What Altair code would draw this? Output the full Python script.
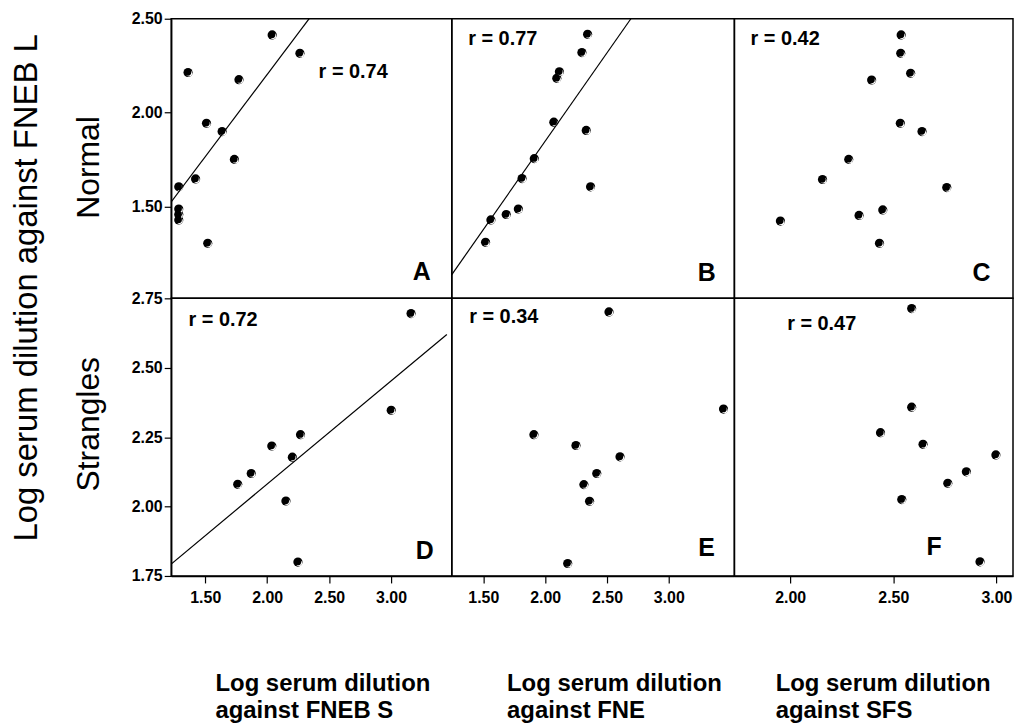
import altair as alt
import pandas as pd

FONT = "Liberation Sans"

# ---------------- data ----------------
# Row 1 (Normal): y = log serum dilution against FNEB L
a_x = [2.040, 2.264, 1.361, 1.772, 1.510, 1.636, 1.735, 1.422, 1.286, 1.286, 1.286, 1.286, 1.520]
a_y = [2.414, 2.316, 2.214, 2.176, 1.944, 1.900, 1.752, 1.648, 1.606, 1.488, 1.459, 1.430, 1.306]
b_x = [2.343, 2.297, 2.115, 2.094, 2.070, 2.332, 1.912, 1.813, 2.367, 1.783, 1.685, 1.561, 1.518]
b_y = [2.417, 2.320, 2.218, 2.183, 1.950, 1.906, 1.756, 1.650, 1.606, 1.488, 1.459, 1.430, 1.311]
c_x = [2.538, 2.536, 2.584, 2.395, 2.534, 2.639, 2.284, 2.157, 2.759, 2.449, 2.334, 1.953, 2.433]
c_y = [2.414, 2.316, 2.210, 2.174, 1.944, 1.900, 1.752, 1.645, 1.602, 1.483, 1.454, 1.424, 1.306]

# Row 2 (Strangles)
d_x = [3.161, 3.001, 2.269, 2.037, 2.203, 1.871, 1.762, 2.151, 2.248]
d_y = [2.695, 2.347, 2.259, 2.218, 2.178, 2.119, 2.080, 2.020, 1.800]
e_x = [2.516, 3.442, 1.909, 2.249, 2.605, 2.417, 2.313, 2.359, 2.182]
e_y = [2.701, 2.351, 2.259, 2.220, 2.179, 2.119, 2.079, 2.019, 1.795]
f_x = [2.589, 2.589, 2.438, 2.644, 2.997, 2.854, 2.764, 2.541, 2.920]
f_y = [2.713, 2.358, 2.266, 2.224, 2.186, 2.125, 2.084, 2.025, 1.801]

# regression lines (end points)
a_fit_x = [1.225, 2.339]
a_fit_y = [1.526, 2.500]
b_fit_x = [1.245, 2.693]
b_fit_y = [1.139, 2.500]
d_fit_x = [1.225, 3.450]
d_fit_y = [1.793, 2.620]

# annotations
r_labels = ["r = 0.74", "r = 0.77", "r = 0.42", "r = 0.72", "r = 0.34", "r = 0.47"]
r_x = [2.694, 1.657, 1.976, 1.644, 1.665, 2.153]
r_y = [2.214, 2.390, 2.390, 2.671, 2.683, 2.659]
panel_letters = ["A", "B", "C", "D", "E", "F"]
letter_x = [3.247, 3.307, 2.927, 3.271, 3.304, 2.698]
letter_y = [1.151, 1.147, 1.147, 1.841, 1.852, 1.855]

row_titles = ["Normal", "Strangles"]
col_titles = [["Log serum dilution", "against FNEB S"],
              ["Log serum dilution", "against FNE"],
              ["Log serum dilution", "against SFS"]]
main_title = "Log serum dilution against FNEB L"

x_domains = [[1.225, 3.49], [1.245, 3.53], [1.73, 3.08]]
y_domains = [[1.013, 2.50], [1.75, 2.75]]
x_ticks = [[1.5, 2.0, 2.5, 3.0], [1.5, 2.0, 2.5, 3.0], [2.0, 2.5, 3.0]]
y_ticks = [[1.5, 2.0, 2.5], [1.75, 2.0, 2.25, 2.5, 2.75]]
widths = [282, 284, 280]
heights = [281, 279]
title_x = [44, 55, 41]
row_title_y = [149, 126]


def panel(i, px, py, col, row, fx=None, fy=None):
    if row == 1:
        xaxis = alt.Axis(values=x_ticks[col], format=".2f", title=col_titles[col],
                         titleFont=FONT, titleFontSize=24, titleFontWeight="bold",
                         titleColor="black", titleAlign="left", titleAnchor="start",
                         titleX=title_x[col], titleY=115, titleBaseline="alphabetic",
                         titleLineHeight=27, labelPadding=7)
    else:
        xaxis = None
    if col == 0:
        yaxis = alt.Axis(values=y_ticks[row], format=".2f", title=row_titles[row],
                         titleFont=FONT, titleFontSize=32, titleFontWeight="normal",
                         titleColor="black", titlePadding=26, titleY=row_title_y[row],
                         labelPadding=2)
    else:
        yaxis = None
    xenc = alt.X("x:Q", scale=alt.Scale(domain=x_domains[col], nice=False, zero=False), axis=xaxis)
    yenc = alt.Y("y:Q", scale=alt.Scale(domain=y_domains[row], nice=False, zero=False), axis=yaxis)

    base = alt.Chart(pd.DataFrame({"x": px, "y": py}))
    layers = [
        base.mark_circle(color="black", opacity=1, size=85, clip=True).encode(x=xenc, y=yenc),
        base.mark_circle(color="white", opacity=1, size=36, xOffset=1.1, yOffset=1.1,
                         clip=True).encode(x=xenc, y=yenc),
        base.mark_circle(color="black", opacity=1, size=46, xOffset=-0.2, yOffset=-0.2,
                         clip=True).encode(x=xenc, y=yenc),
    ]
    if fx is not None:
        layers.append(
            alt.Chart(pd.DataFrame({"x": fx, "y": fy}))
            .mark_line(color="black", strokeWidth=1.2, clip=True)
            .encode(x=xenc, y=yenc)
        )
    layers.append(
        alt.Chart(pd.DataFrame({"x": [r_x[i]], "y": [r_y[i]], "t": [r_labels[i]]}))
        .mark_text(font=FONT, fontWeight="bold", fontSize=20, color="black",
                   align="center", baseline="middle")
        .encode(x=xenc, y=yenc, text="t:N")
    )
    layers.append(
        alt.Chart(pd.DataFrame({"x": [letter_x[i]], "y": [letter_y[i]], "t": [panel_letters[i]]}))
        .mark_text(font=FONT, fontWeight="bold", fontSize=25, color="black",
                   align="center", baseline="middle")
        .encode(x=xenc, y=yenc, text="t:N")
    )
    return alt.layer(*layers).properties(width=widths[col], height=heights[row])


pA = panel(0, a_x, a_y, 0, 0, a_fit_x, a_fit_y)
pB = panel(1, b_x, b_y, 1, 0, b_fit_x, b_fit_y)
pC = panel(2, c_x, c_y, 2, 0)
pD = panel(3, d_x, d_y, 0, 1, d_fit_x, d_fit_y)
pE = panel(4, e_x, e_y, 1, 1)
pF = panel(5, f_x, f_y, 2, 1)

chart = (
    alt.concat(pA, pB, pC, pD, pE, pF, columns=3, spacing=0, bounds="flush")
    .properties(
        title=alt.TitleParams(text=main_title, orient="left", anchor="middle",
                              fontSize=33, fontWeight="normal", font=FONT,
                              color="black", offset=28, dx=79),
        padding={"left": 3, "top": 0, "right": 0, "bottom": 0},
        background="white",
    )
    .configure_view(stroke="black", strokeWidth=1.5)
    .configure_axis(
        labelFont=FONT, labelFontWeight="bold", labelFontSize=16, labelColor="black",
        tickColor="black", domainColor="black", tickSize=7, tickWidth=1.2,
        domainWidth=1.5, grid=False, labelFlush=False, labelOverlap=False,
    )
)

chart.save("out.html", embed_options={"renderer": "svg", "actions": False})
